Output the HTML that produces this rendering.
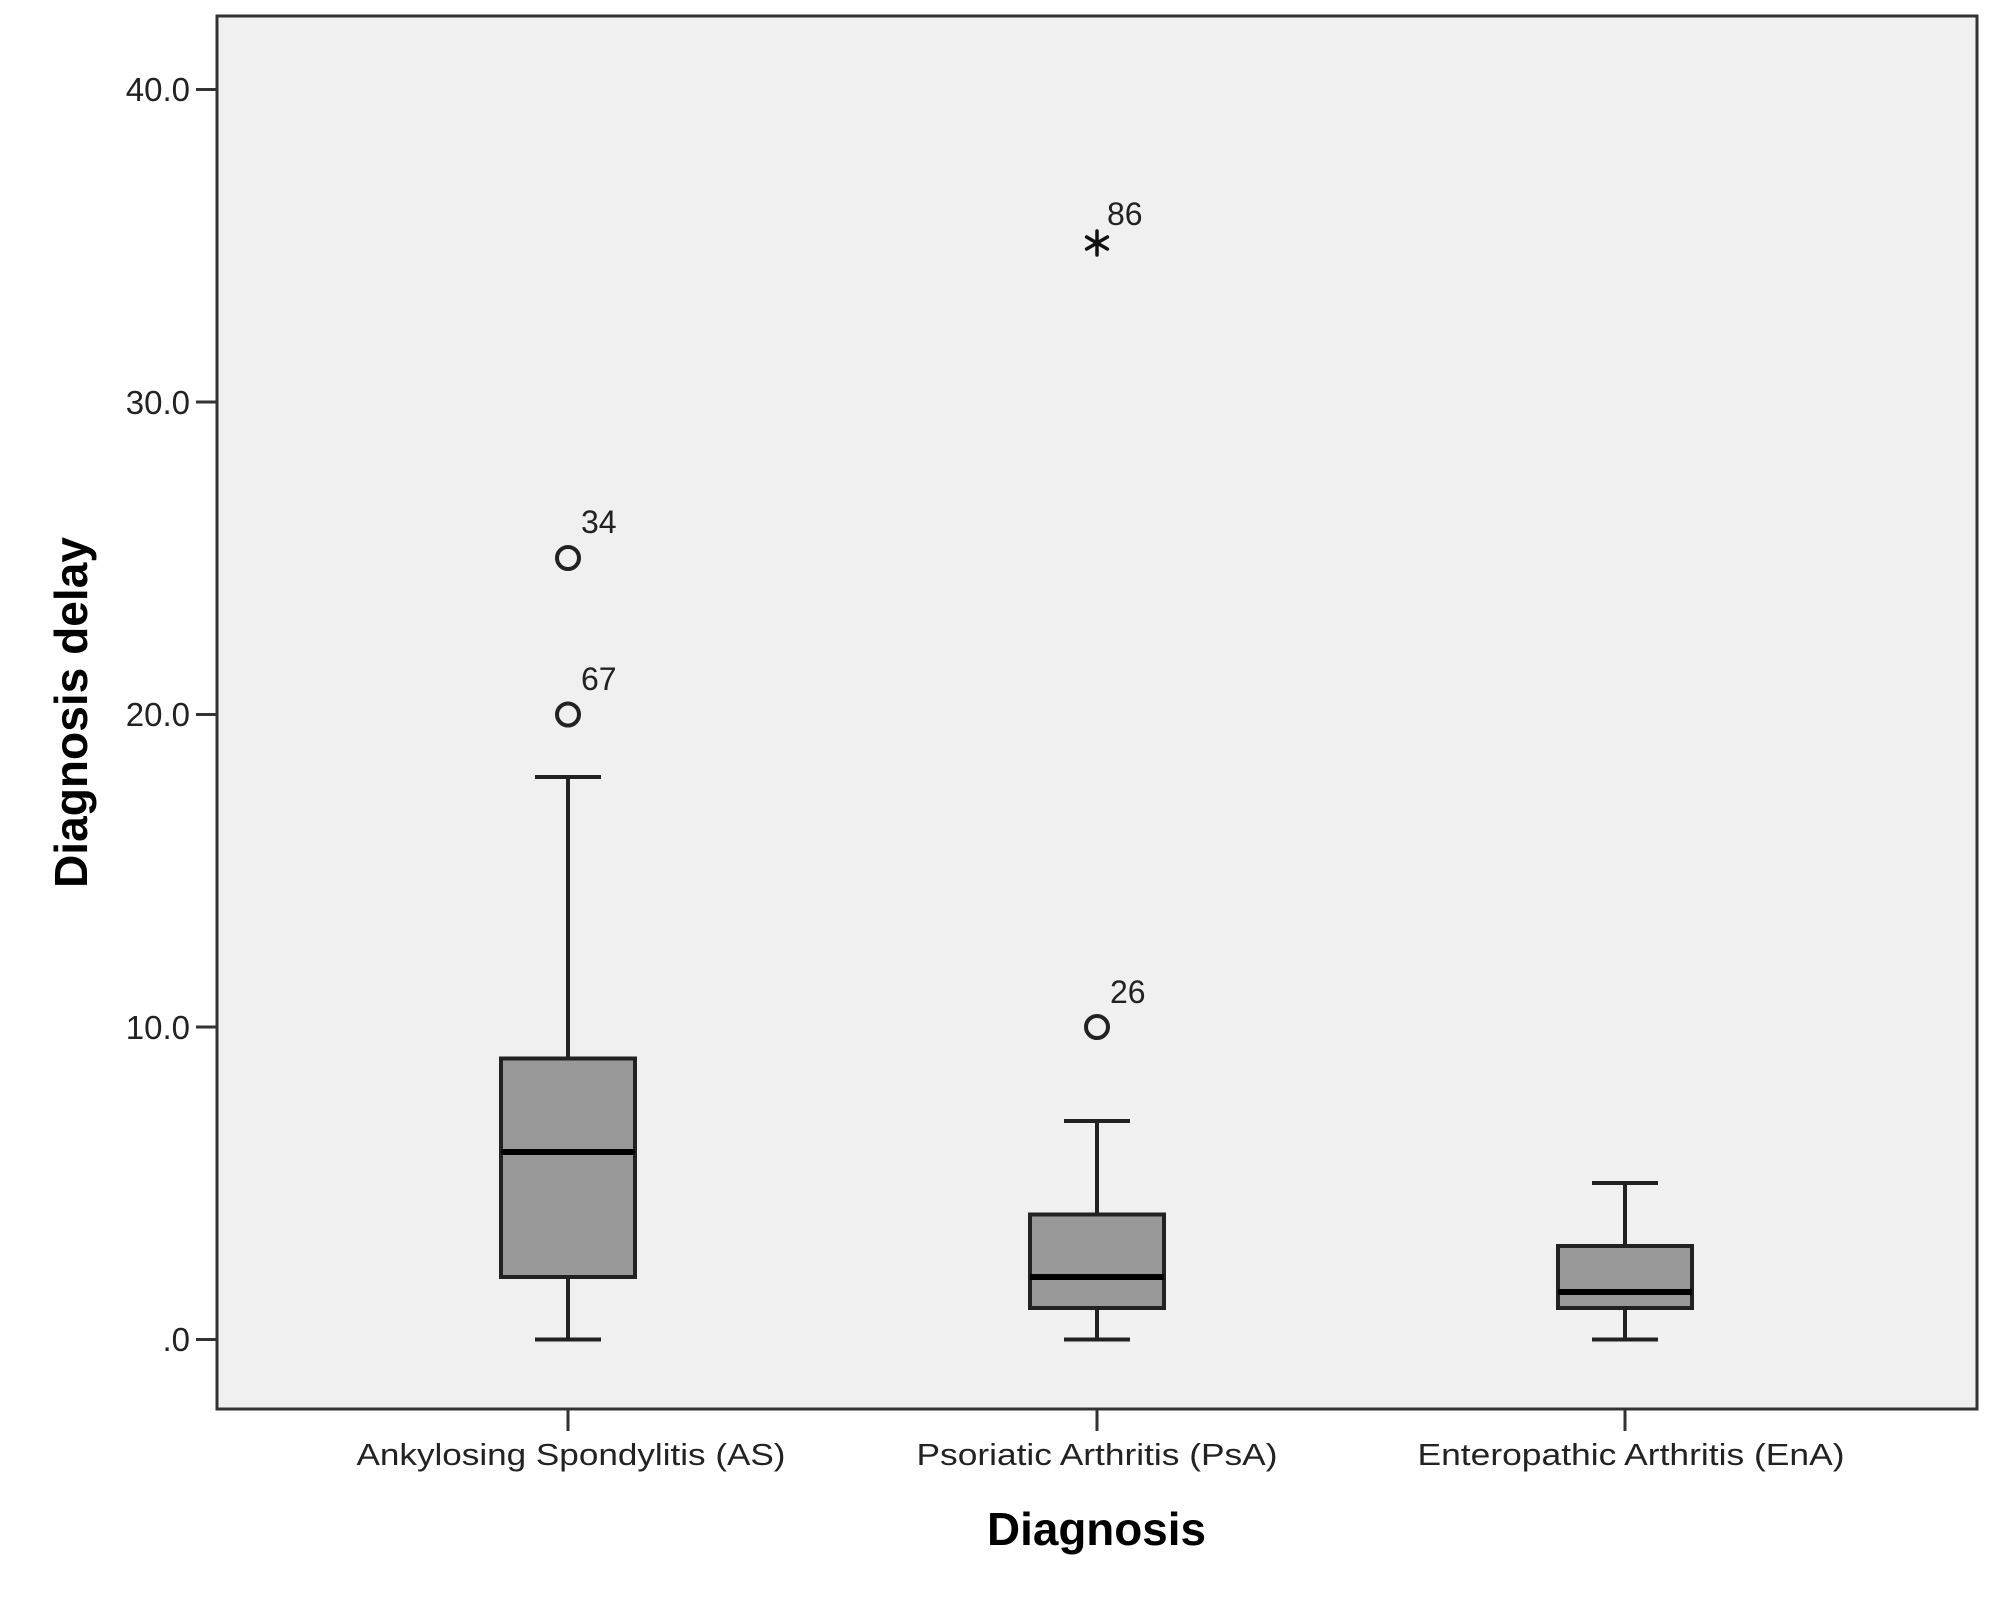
<!DOCTYPE html>
<html><head><meta charset="utf-8"><style>html,body{margin:0;padding:0;background:#fff}svg{display:block}</style></head>
<body>
<svg width="2000" height="1600" viewBox="0 0 2000 1600" xmlns="http://www.w3.org/2000/svg" font-family="Liberation Sans, Arial, sans-serif">
<rect x="217" y="16" width="1760" height="1393" fill="#f0f0f0" stroke="#333" stroke-width="3"/>
<g stroke="#333" stroke-width="3">
<line x1="196" y1="1339.5" x2="217" y2="1339.5"/>
<line x1="196" y1="1027" x2="217" y2="1027"/>
<line x1="196" y1="714.5" x2="217" y2="714.5"/>
<line x1="196" y1="402" x2="217" y2="402"/>
<line x1="196" y1="89.5" x2="217" y2="89.5"/>
<line x1="568" y1="1409" x2="568" y2="1431"/>
<line x1="1097" y1="1409" x2="1097" y2="1431"/>
<line x1="1625" y1="1409" x2="1625" y2="1431"/>
</g>
<g font-size="33" fill="#222" text-anchor="end">
<text x="190" y="1351">.0</text>
<text x="190" y="1039">10.0</text>
<text x="190" y="726">20.0</text>
<text x="190" y="414">30.0</text>
<text x="190" y="101">40.0</text>
</g>
<g stroke="#222" stroke-width="4" fill="none">
<line x1="568" y1="777" x2="568" y2="1058.5"/>
<line x1="568" y1="1277" x2="568" y2="1339.5"/>
<line x1="535" y1="777" x2="601" y2="777"/>
<line x1="535" y1="1339.5" x2="601" y2="1339.5"/>
<rect x="501" y="1058.5" width="134" height="218.5" fill="#999"/>
<line x1="501" y1="1152" x2="635" y2="1152" stroke="#000" stroke-width="6"/>
<circle cx="568" cy="714.5" r="11"/>
<circle cx="568" cy="558" r="11"/>
<line x1="1097" y1="1121" x2="1097" y2="1214.5"/>
<line x1="1097" y1="1308" x2="1097" y2="1339.5"/>
<line x1="1064" y1="1121" x2="1130" y2="1121"/>
<line x1="1064" y1="1339.5" x2="1130" y2="1339.5"/>
<rect x="1030" y="1214.5" width="134" height="93.5" fill="#999"/>
<line x1="1030" y1="1277" x2="1164" y2="1277" stroke="#000" stroke-width="6"/>
<circle cx="1097" cy="1027" r="11"/>
<line x1="1625" y1="1183" x2="1625" y2="1246"/>
<line x1="1625" y1="1308" x2="1625" y2="1339.5"/>
<line x1="1592" y1="1183" x2="1658" y2="1183"/>
<line x1="1592" y1="1339.5" x2="1658" y2="1339.5"/>
<rect x="1558" y="1246" width="134" height="62" fill="#999"/>
<line x1="1558" y1="1292" x2="1692" y2="1292" stroke="#000" stroke-width="6"/>
</g>
<g stroke="#111" stroke-width="3.5" stroke-linecap="round">
<line x1="1097" y1="231" x2="1097" y2="255"/>
<line x1="1086.6" y1="237" x2="1107.4" y2="249"/>
<line x1="1086.6" y1="249" x2="1107.4" y2="237"/>
</g>
<g font-size="32" fill="#222">
<text x="581" y="533">34</text>
<text x="581" y="690">67</text>
<text x="1110" y="1003">26</text>
<text x="1107" y="225">86</text>
</g>
<g font-size="31" fill="#222" text-anchor="middle">
<text x="571" y="1465" textLength="429" lengthAdjust="spacingAndGlyphs">Ankylosing Spondylitis (AS)</text>
<text x="1097" y="1465" textLength="361" lengthAdjust="spacingAndGlyphs">Psoriatic Arthritis (PsA)</text>
<text x="1631" y="1465" textLength="427" lengthAdjust="spacingAndGlyphs">Enteropathic Arthritis (EnA)</text>
</g>
<text x="987" y="1545" font-size="46" font-weight="bold" fill="#000" textLength="219" lengthAdjust="spacingAndGlyphs">Diagnosis</text>
<text transform="translate(87,888) rotate(-90)" x="0" y="0" font-size="46" font-weight="bold" fill="#000" textLength="351" lengthAdjust="spacingAndGlyphs">Diagnosis delay</text>
</svg>
</body></html>
